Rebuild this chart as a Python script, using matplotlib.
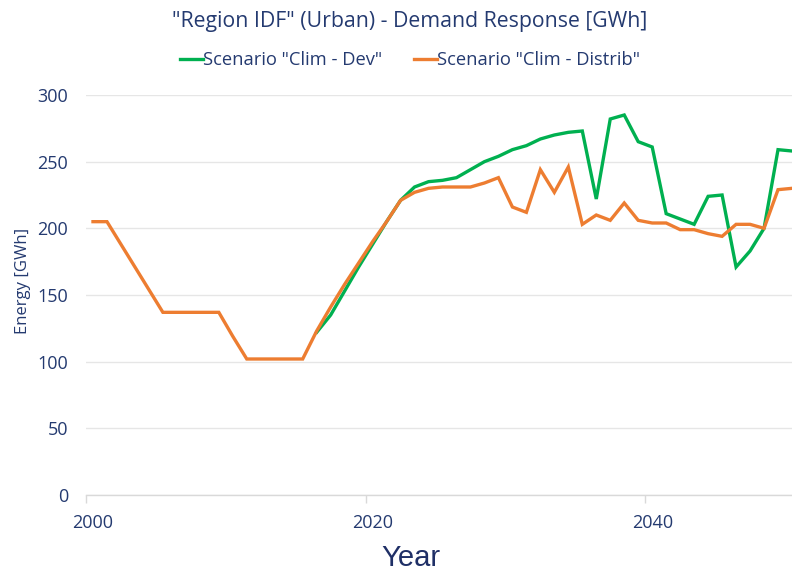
import numpy as np
import matplotlib
matplotlib.use("Agg")
import matplotlib.pyplot as plt
from matplotlib.ticker import FixedLocator

# ---- data -------------------------------------------------------------
years = list(range(2000, 2051))

distrib = [205, 205, 188, 171, 154, 137, 137, 137, 137, 137,
           119, 102, 102, 102, 102, 102, 123, 141, 158, 174,
           190, 205, 221, 227, 230, 231, 231, 231, 234, 238,
           216, 212, 244, 227, 246, 203, 210, 206, 219, 206,
           204, 204, 199, 199, 196, 194, 203, 203, 200, 229,
           230]

dev_years = list(range(2016, 2051))
dev = [122, 135, 153, 171, 188, 205, 221, 231, 235, 236,
       238, 244, 250, 254, 259, 262, 267, 270, 272, 273,
       222, 282, 285, 265, 261, 211, 207, 203, 224, 225,
       171, 183, 200, 259, 258]

y_ticks = [0, 50, 100, 150, 200, 250, 300]
x_tick_years = [2000, 2020, 2040]

title = '"Region IDF" (Urban) - Demand Response [GWh]'
label_dev = 'Scenario "Clim - Dev"'
label_distrib = 'Scenario "Clim - Distrib"'

# ---- style ------------------------------------------------------------
TEXT = "#243A70"
GREEN = "#00B050"
ORANGE = "#ED7D31"
GRID = "#E6E6E6"
FONT = "Open Sans"

W, H = 792, 571
fig = plt.figure(figsize=(W / 100, H / 100), dpi=100)
ax = fig.add_axes([86 / W, 1 - 495 / H, 1 - 86 / W, (495 - 95) / H])

l1, = ax.plot(dev_years, dev, color=GREEN, lw=2.4, label=label_dev,
              solid_joinstyle="miter")
l2, = ax.plot(years, distrib, color=ORANGE, lw=2.4, label=label_distrib,
              solid_joinstyle="miter")

ax.set_xlim(1999.5, 2050.0)
ax.set_ylim(0, 300)

ax.set_yticks(y_ticks)
ax.yaxis.grid(True, color=GRID, lw=1.0)
ax.set_axisbelow(True)
ax.tick_params(axis="y", length=0, pad=13, labelsize=13, labelcolor=TEXT)

ax.xaxis.set_major_locator(FixedLocator(x_tick_years))
ax.xaxis.set_minor_locator(FixedLocator([y - 0.5 for y in x_tick_years]))
ax.tick_params(axis="x", which="major", length=0, pad=14,
               labelsize=13, labelcolor=TEXT)
ax.tick_params(axis="x", which="minor", length=6, width=1, color="#D9D9D9")

for side in ("top", "right", "left"):
    ax.spines[side].set_visible(False)
ax.spines["bottom"].set_color("#D9D9D9")
ax.spines["bottom"].set_linewidth(1.0)

for lab in ax.get_xticklabels() + ax.get_yticklabels():
    lab.set_fontfamily(FONT)

ax.set_ylabel("Energy [GWh]", fontsize=12, color=TEXT, family=FONT)
ax.yaxis.set_label_coords((31 - 86) / (W - 86), 0.535)

fig.text(410 / W, 1 - 22 / H, title, ha="center", va="center",
         fontsize=15.3, color=TEXT, family=FONT)

fig.legend(handles=[l1, l2], loc="center", bbox_to_anchor=(410 / W, 1 - 60 / H),
           ncol=2, frameon=False, handlelength=1.3, handletextpad=0.0,
           columnspacing=1.7,
           prop={"family": FONT, "size": 13.2})
for t in fig.legends[0].get_texts():
    t.set_color(TEXT)

fig.text(411 / W, 1 - 558 / H, "Year", ha="center", va="center",
         fontsize=21, color="#1F2F66", family="Liberation Sans")

fig.savefig("out.png", dpi=100)
